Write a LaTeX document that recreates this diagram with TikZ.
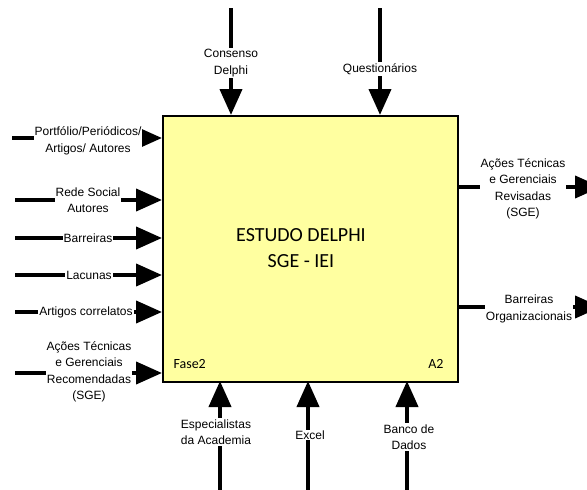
\documentclass[tikz,border=0pt]{standalone}
\usepackage{fontspec}
\setmainfont{Liberation Sans}
\newfontfamily\calib{Carlito}
\usetikzlibrary{arrows.meta}
\definecolor{boxfill}{RGB}{255,255,160}
\tikzset{
  flow/.style={line width=4pt, -{Triangle[length=26pt,width=22pt]}},
  lbl/.style={fill=white, inner sep=1pt, align=center, font=\fontsize{12}{16.5}\selectfont},
}
\begin{document}
\begin{tikzpicture}[x=1pt,y=-1pt]
\useasboundingbox (0,0) rectangle (587,490);
\node[draw=black, line width=2pt, fill=boxfill, minimum width=295pt, minimum height=266pt, inner sep=0pt, anchor=north west] (box) at (162,115) {};
\node[font=\calib\fontsize{20}{26}\selectfont, align=center] (title) at (301,248) {ESTUDO DELPHI\\SGE - IEI};
\node[font=\calib\fontsize{14}{16}\selectfont, anchor=west] (fase) at (170,364) {Fase2};
\node[font=\calib\fontsize{14}{16}\selectfont, anchor=east] (a2) at (447,364) {A2};
% top
\coordinate (t1) at (231,8);
\coordinate (t2) at (380,8);
\coordinate (t1e) at (231,115);
\coordinate (t2e) at (380,115);
\draw[flow] (t1) -- (t1e);
\draw[flow] (t2) -- (t2e);
\node[lbl] (l1) at (231,63) {Consenso\\Delphi};
\node[lbl] (l2) at (380,69) {Questionários};
% bottom
\draw[flow] (220,490) -- (220,381);
\draw[flow] (308,490) -- (308,381);
\draw[flow] (407,490) -- (407,381);
\node[lbl] (b1) at (216,432) {Especialistas\\da Academia};
\node[lbl] (b2) at (310,435) {Excel};
\node[lbl] (b3) at (409,437) {Banco de\\Dados};
% left
\draw[flow] (12,138) -- (162,138);
\draw[flow] (15,200) -- (162,200);
\draw[flow] (15,238) -- (162,238);
\draw[flow] (15,275) -- (162,275);
\draw[flow] (15,312) -- (162,312);
\draw[flow] (15,373) -- (162,373);
\node[lbl] (w1) at (88,141) {Portfólio/Periódicos/\\Artigos/ Autores};
\node[lbl] (w2) at (88,200) {Rede Social\\Autores};
\node[lbl] (w3) at (88,238) {Barreiras};
\node[lbl] (w4) at (89,275) {Lacunas};
\node[lbl] (w5) at (86,312) {Artigos correlatos};
\node[lbl] (w6) at (89,372) {Ações Técnicas\\e Gerenciais\\Recomendadas\\(SGE)};
% right
\draw[flow] (457,187) -- (601,187);
\draw[flow] (457,307) -- (601,307);
\node[lbl] (r1) at (523,189) {Ações Técnicas\\e Gerenciais\\Revisadas\\(SGE)};
\node[lbl] (r2) at (529,309) {Barreiras\\Organizacionais};
\end{tikzpicture}
\end{document}
